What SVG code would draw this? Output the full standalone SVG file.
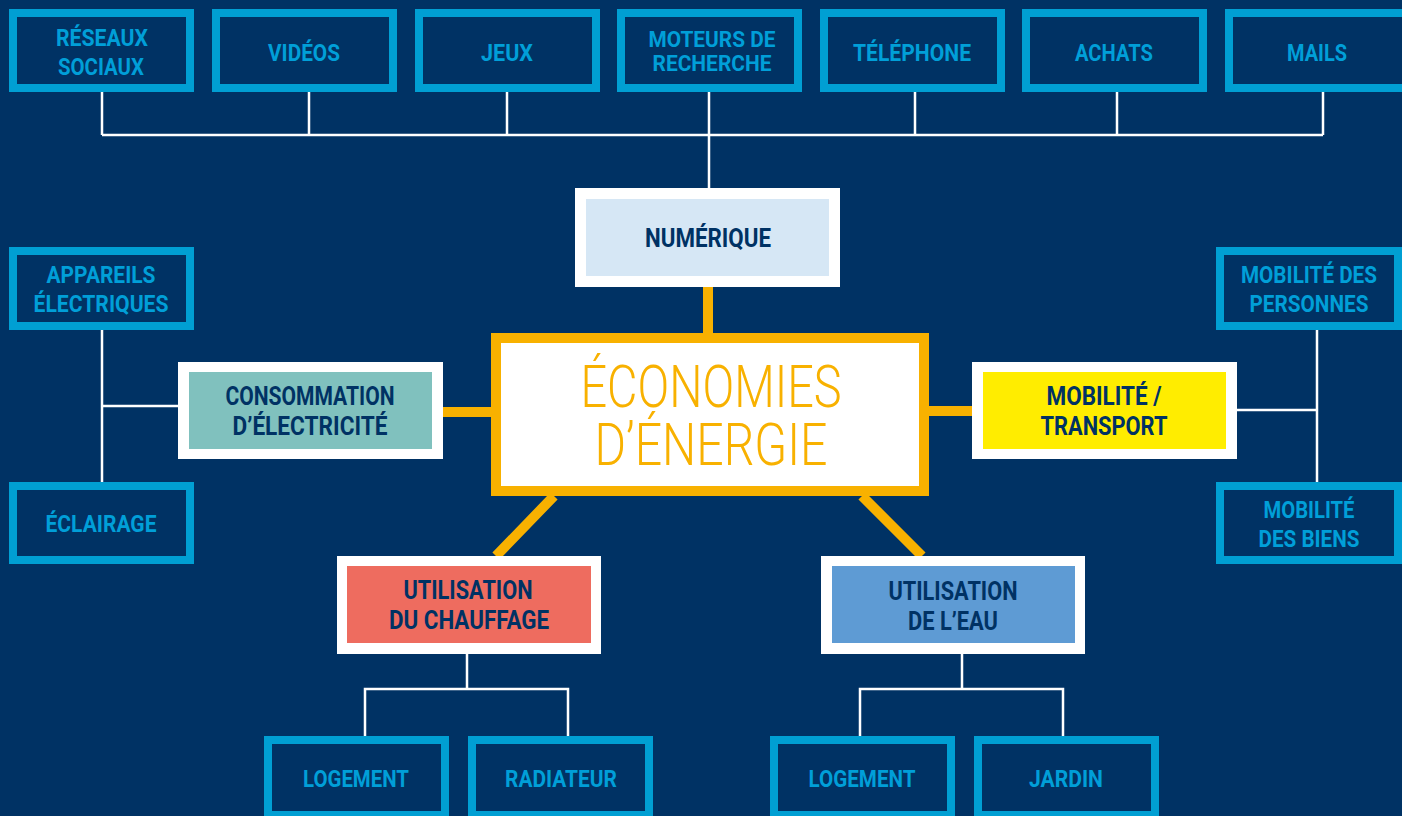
<svg xmlns="http://www.w3.org/2000/svg" width="1402" height="816" viewBox="0 0 1402 816">
<style>
.leaf{fill:#003264;stroke:#009FD3;stroke-width:8}
.lt{font-family:Roboto,"Liberation Sans",sans-serif;font-weight:700;font-size:24px;fill:#009FD8;text-anchor:middle}
.st{font-size:22px}
.nt{font-family:Roboto,"Liberation Sans",sans-serif;font-weight:700;font-size:25px;fill:#003264;text-anchor:middle}
.wb{fill:#FFFFFF}
.wl{fill:none;stroke:#FFFFFF;stroke-width:2.5}
.ol{fill:none;stroke:#F8B100;stroke-width:10}
</style>
<rect x="0" y="0" width="1402" height="816" fill="#003264"/>
<g id="connectors">
  <path class="wl" d="M102 92V135M309 92V135M507 92V135M709 92V188M915 92V135M1117 92V135M1323 92V135M102 135H1323"/>
  <path class="wl" d="M102 330V482M102 406H178"/>
  <path class="wl" d="M1317 330V482M1237 410H1317"/>
  <path class="wl" d="M467 654V689M365 736V689H568V736"/>
  <path class="wl" d="M962 654V689M860 736V689H1063V736"/>
  <path class="ol" d="M708 287V333M491 412H443M929 411H972M554 496L496 556M862 496L922 556"/>
</g>
<g id="n-reseaux"><rect class="leaf" x="13" y="13" width="177" height="75"/><text class="lt" x="102" y="46" textLength="92" lengthAdjust="spacingAndGlyphs">RÉSEAUX</text><text class="lt" x="101" y="75" textLength="86" lengthAdjust="spacingAndGlyphs">SOCIAUX</text></g>
<g id="n-videos"><rect class="leaf" x="216" y="13" width="177" height="75"/><text class="lt" x="304" y="61" textLength="72" lengthAdjust="spacingAndGlyphs">VIDÉOS</text></g>
<g id="n-jeux"><rect class="leaf" x="419" y="13" width="177" height="75"/><text class="lt" x="507" y="61" textLength="52" lengthAdjust="spacingAndGlyphs">JEUX</text></g>
<g id="n-moteurs"><rect class="leaf" x="621" y="13" width="177" height="75"/><text class="lt st" x="712" y="47" textLength="127" lengthAdjust="spacingAndGlyphs">MOTEURS DE</text><text class="lt st" x="712" y="71" textLength="119" lengthAdjust="spacingAndGlyphs">RECHERCHE</text></g>
<g id="n-telephone"><rect class="leaf" x="824" y="13" width="177" height="75"/><text class="lt" x="912" y="61" textLength="118" lengthAdjust="spacingAndGlyphs">TÉLÉPHONE</text></g>
<g id="n-achats"><rect class="leaf" x="1026" y="13" width="177" height="75"/><text class="lt" x="1114" y="61" textLength="78" lengthAdjust="spacingAndGlyphs">ACHATS</text></g>
<g id="n-mails"><rect class="leaf" x="1229" y="13" width="177" height="75"/><text class="lt" x="1317" y="61" textLength="60" lengthAdjust="spacingAndGlyphs">MAILS</text></g>

<g id="n-numerique"><rect class="wb" x="575" y="188" width="265" height="99"/><rect x="586" y="199" width="243" height="77" fill="#D6E7F5"/><text class="nt" x="708" y="247" textLength="126" lengthAdjust="spacingAndGlyphs">NUMÉRIQUE</text></g>

<g id="n-centre"><rect x="496" y="338" width="428" height="153" fill="#FFFFFF" stroke="#F8B100" stroke-width="10"/>
<text x="711" y="407" font-family="Roboto,'Liberation Sans',sans-serif" font-weight="300" font-size="59" fill="#F8B100" text-anchor="middle" textLength="261" lengthAdjust="spacingAndGlyphs">ÉCONOMIES</text>
<text x="711" y="465" font-family="Roboto,'Liberation Sans',sans-serif" font-weight="300" font-size="59" fill="#F8B100" text-anchor="middle" textLength="233" lengthAdjust="spacingAndGlyphs">D’ÉNERGIE</text></g>

<g id="n-consommation"><rect class="wb" x="178" y="362" width="265" height="97"/><rect x="189" y="372" width="243" height="77" fill="#80C1BE"/><text class="nt" x="310" y="405" textLength="169" lengthAdjust="spacingAndGlyphs">CONSOMMATION</text><text class="nt" x="310" y="435" textLength="155" lengthAdjust="spacingAndGlyphs">D’ÉLECTRICITÉ</text></g>

<g id="n-mobilite"><rect class="wb" x="972" y="362" width="265" height="97"/><rect x="983" y="372" width="243" height="77" fill="#FFED00"/><text class="nt" x="1104" y="405" textLength="115" lengthAdjust="spacingAndGlyphs">MOBILITÉ /</text><text class="nt" x="1104" y="435" textLength="127" lengthAdjust="spacingAndGlyphs">TRANSPORT</text></g>

<g id="n-appareils"><rect class="leaf" x="13" y="251" width="177" height="75"/><text class="lt" x="101" y="283" textLength="109" lengthAdjust="spacingAndGlyphs">APPAREILS</text><text class="lt" x="101" y="312" textLength="135" lengthAdjust="spacingAndGlyphs">ÉLECTRIQUES</text></g>
<g id="n-eclairage"><rect class="leaf" x="13" y="486" width="177" height="74"/><text class="lt" x="101" y="532" textLength="111" lengthAdjust="spacingAndGlyphs">ÉCLAIRAGE</text></g>

<g id="n-personnes"><rect class="leaf" x="1220" y="251" width="178" height="75"/><text class="lt" x="1309" y="283" textLength="136" lengthAdjust="spacingAndGlyphs">MOBILITÉ DES</text><text class="lt" x="1309" y="312" textLength="119" lengthAdjust="spacingAndGlyphs">PERSONNES</text></g>
<g id="n-biens"><rect class="leaf" x="1220" y="486" width="178" height="74"/><text class="lt" x="1309" y="518" textLength="91" lengthAdjust="spacingAndGlyphs">MOBILITÉ</text><text class="lt" x="1309" y="547" textLength="101" lengthAdjust="spacingAndGlyphs">DES BIENS</text></g>

<g id="n-chauffage"><rect class="wb" x="337" y="556" width="264" height="98"/><rect x="347" y="566" width="244" height="77" fill="#EE6C5F"/><text class="nt" x="468" y="599" textLength="129" lengthAdjust="spacingAndGlyphs">UTILISATION</text><text class="nt" x="469" y="629" textLength="160" lengthAdjust="spacingAndGlyphs">DU CHAUFFAGE</text></g>

<g id="n-eau"><rect class="wb" x="821" y="556" width="264" height="98"/><rect x="832" y="566" width="243" height="77" fill="#5E9BD4"/><text class="nt" x="953" y="600" textLength="129" lengthAdjust="spacingAndGlyphs">UTILISATION</text><text class="nt" x="953" y="630" textLength="90" lengthAdjust="spacingAndGlyphs">DE L’EAU</text></g>

<g id="n-logement1"><rect class="leaf" x="268" y="740" width="177" height="75"/><text class="lt" x="356" y="787" textLength="106" lengthAdjust="spacingAndGlyphs">LOGEMENT</text></g>
<g id="n-radiateur"><rect class="leaf" x="472" y="740" width="177" height="75"/><text class="lt" x="561" y="787" textLength="112" lengthAdjust="spacingAndGlyphs">RADIATEUR</text></g>
<g id="n-logement2"><rect class="leaf" x="774" y="740" width="177" height="75"/><text class="lt" x="862" y="787" textLength="107" lengthAdjust="spacingAndGlyphs">LOGEMENT</text></g>
<g id="n-jardin"><rect class="leaf" x="978" y="740" width="177" height="75"/><text class="lt" x="1066" y="787" textLength="74" lengthAdjust="spacingAndGlyphs">JARDIN</text></g>
</svg>
